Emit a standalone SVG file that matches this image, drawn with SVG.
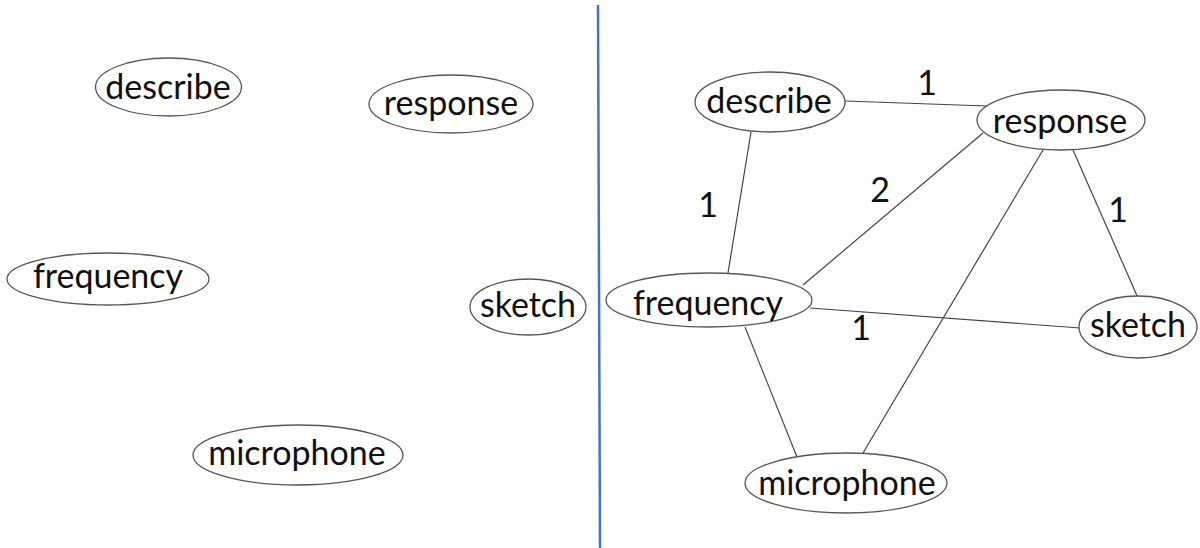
<svg xmlns="http://www.w3.org/2000/svg" width="1200" height="548" viewBox="0 0 1200 548">
<style>
.node ellipse{fill:#fff;stroke:#555;stroke-width:1.3}
text{font-family:Lato,"Open Sans","Liberation Sans",sans-serif;font-size:34px;fill:#111;text-anchor:middle}
.edges line{stroke:#444;stroke-width:1.2}
.divider{stroke:#4472C4;stroke-width:2.5}
</style>
<rect width="1200" height="548" fill="#fff"/>
<line class="divider" x1="598" y1="5" x2="600" y2="548"/>
<g id="left-describe" class="node"><ellipse cx="168.5" cy="87" rx="73" ry="29"/><text x="168" y="99">describe</text></g>
<g id="left-response" class="node"><ellipse cx="451" cy="104" rx="82" ry="29"/><text x="451" y="115">response</text></g>
<g id="left-frequency" class="node"><ellipse cx="108" cy="279" rx="101" ry="26"/><text x="108" y="288">frequency</text></g>
<g id="left-sketch" class="node"><ellipse cx="528" cy="307" rx="58" ry="28"/><text x="528" y="317">sketch</text></g>
<g id="left-microphone" class="node"><ellipse cx="298" cy="455" rx="105" ry="30"/><text x="297" y="465">microphone</text></g>
<g id="connectors" class="edges">
<line x1="845" y1="101" x2="987" y2="106"/>
<line x1="751" y1="132" x2="728" y2="273"/>
<line x1="983" y1="133" x2="803" y2="285"/>
<line x1="1043" y1="150" x2="863" y2="453"/>
<line x1="1073" y1="150" x2="1138" y2="298"/>
<line x1="810" y1="308" x2="1080" y2="328"/>
<line x1="745" y1="327" x2="797" y2="457"/>
</g>
<g id="edge-labels">
<text x="927" y="95">1</text>
<text x="708" y="217">1</text>
<text x="880" y="202">2</text>
<text x="1118" y="222">1</text>
<text x="861" y="340">1</text>
</g>
<g id="right-describe" class="node"><ellipse cx="770" cy="102" rx="75" ry="30"/><text x="769" y="113">describe</text></g>
<g id="right-response" class="node"><ellipse cx="1061" cy="120" rx="84" ry="30"/><text x="1060" y="133">response</text></g>
<g id="right-frequency" class="node"><ellipse cx="709" cy="300" rx="103" ry="27"/><text x="708" y="315">frequency</text></g>
<g id="right-sketch" class="node"><ellipse cx="1138" cy="327" rx="59" ry="31"/><text x="1138" y="337">sketch</text></g>
<g id="right-microphone" class="node"><ellipse cx="846" cy="483" rx="101" ry="30"/><text x="847" y="495">microphone</text></g>
</svg>
